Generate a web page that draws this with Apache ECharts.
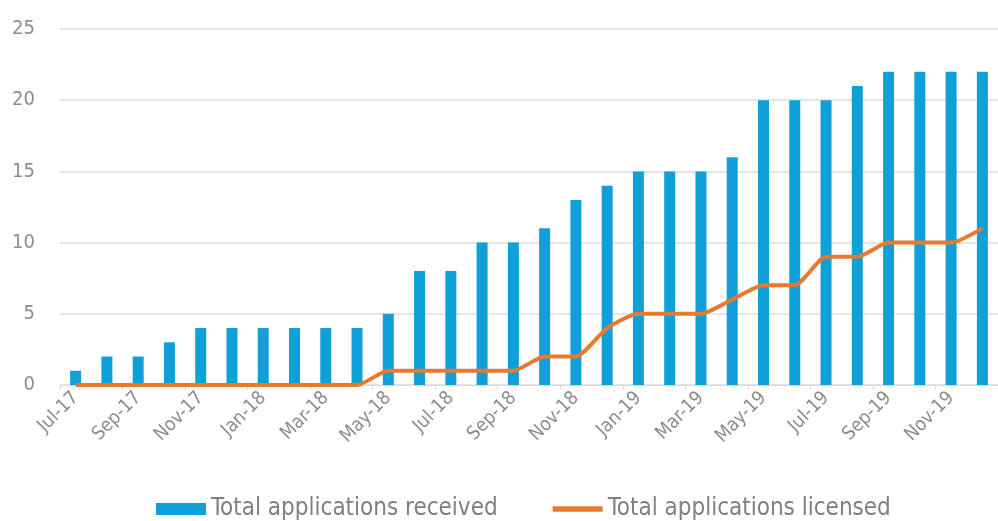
<!DOCTYPE html>
<html>
<head>
<meta charset="utf-8">
<script src="https://cdn.jsdelivr.net/npm/echarts@6/dist/echarts.min.js"></script>
<style>html,body{margin:0;padding:0;background:#fff}#c{width:998px;height:521px}</style>
</head>
<body>
<div id="c"></div>
<script>
const categories = ['Jul-17','Aug-17','Sep-17','Oct-17','Nov-17','Dec-17',
  'Jan-18','Feb-18','Mar-18','Apr-18','May-18','Jun-18','Jul-18','Aug-18','Sep-18','Oct-18','Nov-18','Dec-18',
  'Jan-19','Feb-19','Mar-19','Apr-19','May-19','Jun-19','Jul-19','Aug-19','Sep-19','Oct-19','Nov-19','Dec-19'];
const received = [1,2,2,3,4,4, 4,4,4,4,5,8,8,10,10,11,13,14, 15,15,15,16,20,20,20,21,22,22,22,22];
const licensed = [0,0,0,0,0,0, 0,0,0,0,1,1,1,1,1,2,2,4, 5,5,5,6,7,7,9,9,10,10,10,11];
const yTicks = [0,5,10,15,20,25];

const FONT = '"DejaVu Sans Condensed","Liberation Sans Narrow","Roboto",sans-serif';
const chart = echarts.init(document.getElementById('c'), null, {renderer:'canvas'});
chart.setOption({
  animation: false,
  textStyle: {fontFamily: FONT},
  grid: {left: 60, right: -11, top: 29, bottom: 136, containLabel: false},
  legend: {
    bottom: -5, left: 151, itemGap: 55,
    textStyle: {fontFamily: FONT, fontSize: 24, color: '#7f7f7f'},
    data: [
      {name: 'Total applications received', icon: 'rect', itemStyle: {color: '#0fa0d8'}},
      {name: 'Total applications licensed', icon: 'path://M0,0 L38,0 L38,4 L0,4 Z', itemStyle: {color: '#e8792f'}}
    ],
    itemWidth: 50, itemHeight: 12
  },
  xAxis: {
    type: 'category', data: categories, boundaryGap: true,
    axisLine: {lineStyle: {color: '#d9d9d9', width: 1}},
    axisTick: {show: true, interval: 1, length: 5, lineStyle: {color: '#d9d9d9'}},
    axisLabel: {interval: 1, rotate: 45, color: '#8c8c8c', fontSize: 19, fontFamily: FONT, margin: 10}
  },
  yAxis: {
    type: 'value', min: yTicks[0], max: yTicks[yTicks.length-1], interval: 5,
    axisLine: {show: false}, axisTick: {show: false},
    axisLabel: {color: '#8c8c8c', fontSize: 20, fontFamily: FONT, margin: 25},
    splitLine: {lineStyle: {color: '#dcdcdc', width: 1.5}}
  },
  series: [
    {name: 'Total applications received', type: 'bar', data: received, barWidth: 11,
     itemStyle: {color: '#0fa0d8'}},
    {name: 'Total applications licensed', type: 'line', data: licensed, smooth: 0.2,
     showSymbol: false, symbol: 'none',
     lineStyle: {color: '#e8792f', width: 4}, itemStyle: {color: '#e8792f'}}
  ]
});
</script>
</body>
</html>
